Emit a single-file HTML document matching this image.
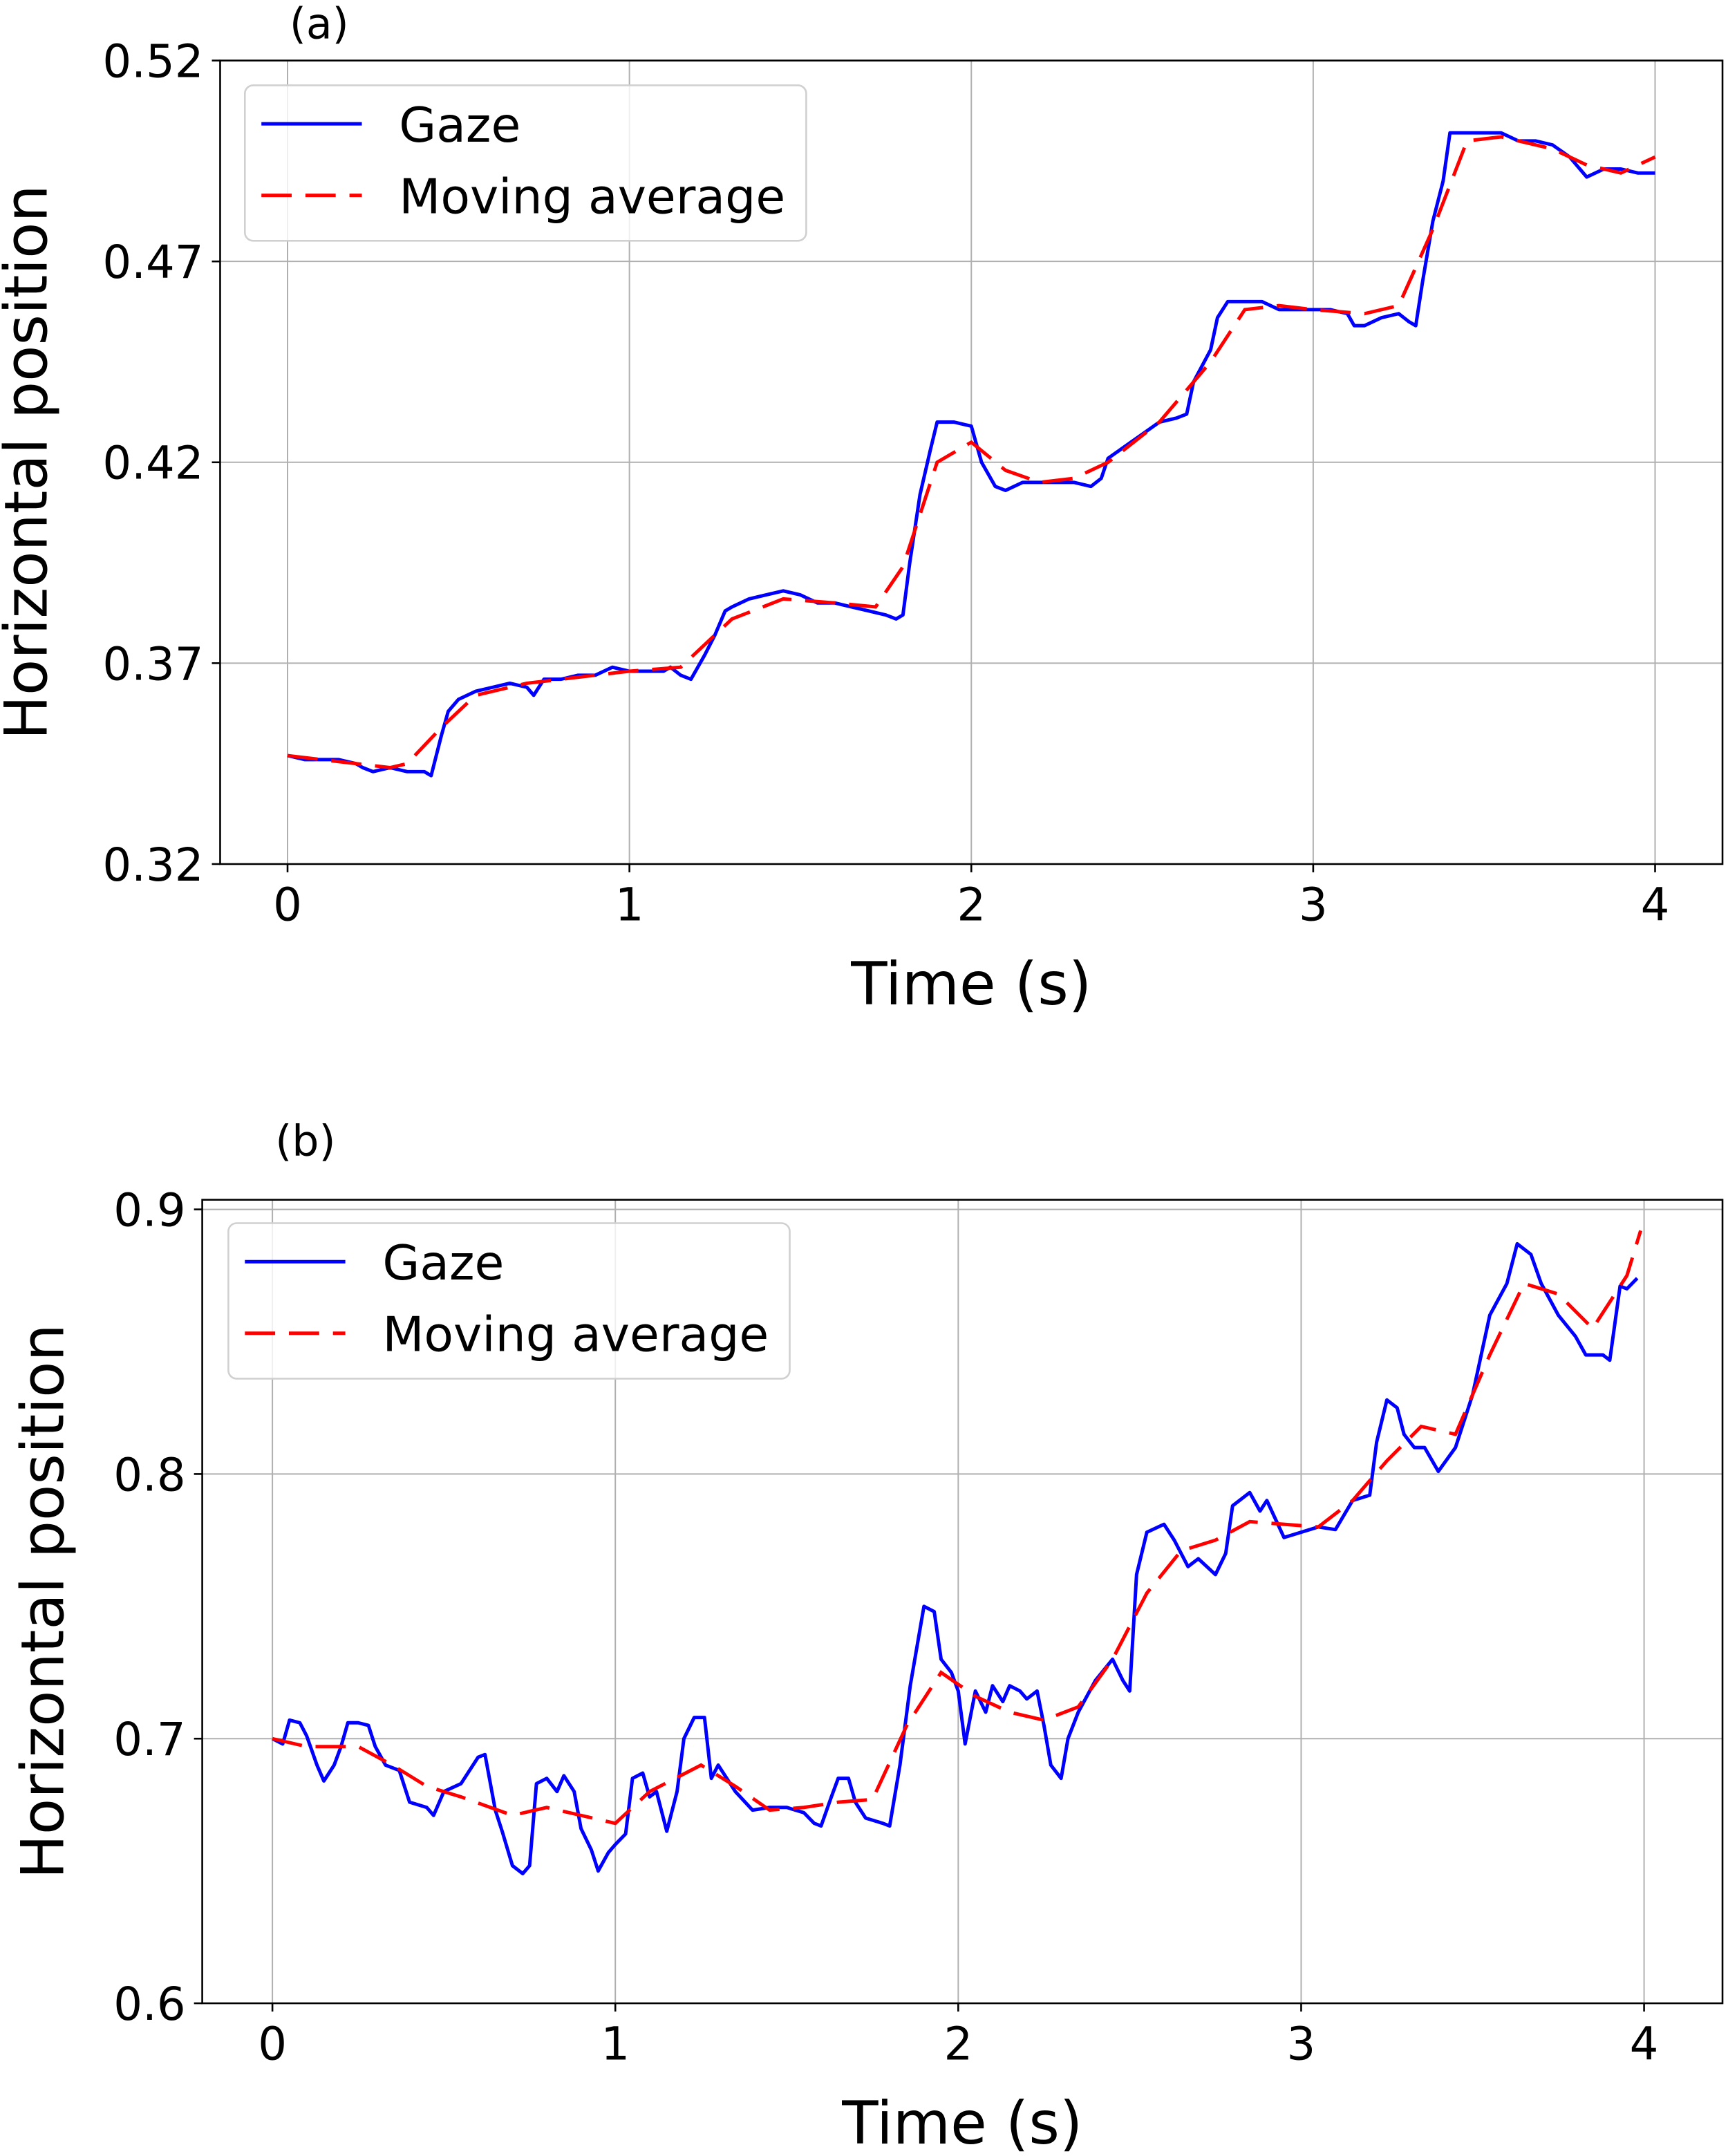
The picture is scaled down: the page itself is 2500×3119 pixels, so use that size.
<!DOCTYPE html>
<html><head><meta charset="utf-8"><style>html,body{margin:0;padding:0;background:#fff}svg{display:block}</style></head>
<body>
<svg id="fig" width="2500" height="3119" viewBox="0 0 1256 1567" preserveAspectRatio="none" xmlns="http://www.w3.org/2000/svg" font-family="DejaVu Sans, Liberation Sans, sans-serif"></svg>
<script>
// Panel (a) data
const aGazeT=[0,0.05,0.1,0.15,0.2,0.22,0.25,0.3,0.35,0.4,0.42,0.45,0.47,0.5,0.55,0.6,0.65,0.7,0.72,0.75,0.8,0.85,0.9,0.95,1.0,1.05,1.1,1.12,1.15,1.18,1.2,1.22,1.25,1.28,1.3,1.35,1.4,1.45,1.5,1.55,1.6,1.65,1.7,1.75,1.78,1.8,1.82,1.85,1.88,1.9,1.95,2.0,2.03,2.07,2.1,2.15,2.2,2.25,2.3,2.35,2.38,2.4,2.45,2.5,2.55,2.6,2.63,2.65,2.7,2.72,2.75,2.8,2.85,2.9,2.95,3.0,3.05,3.1,3.12,3.15,3.2,3.25,3.28,3.3,3.32,3.35,3.38,3.4,3.45,3.5,3.55,3.6,3.65,3.7,3.75,3.8,3.85,3.9,3.95,4.0];
const aGazeV=[0.347,0.346,0.346,0.346,0.345,0.344,0.343,0.344,0.343,0.343,0.342,0.352,0.358,0.361,0.363,0.364,0.365,0.364,0.362,0.366,0.366,0.367,0.367,0.369,0.368,0.368,0.368,0.369,0.367,0.366,0.369,0.372,0.377,0.383,0.384,0.386,0.387,0.388,0.387,0.385,0.385,0.384,0.383,0.382,0.381,0.382,0.395,0.412,0.423,0.430,0.430,0.429,0.420,0.414,0.413,0.415,0.415,0.415,0.415,0.414,0.416,0.421,0.424,0.427,0.430,0.431,0.432,0.440,0.448,0.456,0.460,0.460,0.460,0.458,0.458,0.458,0.458,0.457,0.454,0.454,0.456,0.457,0.455,0.454,0.465,0.480,0.490,0.502,0.502,0.502,0.502,0.500,0.500,0.499,0.496,0.491,0.493,0.493,0.492,0.492];
const aAvgT=[0,0.3,0.35,0.45,0.55,0.7,1.0,1.15,1.3,1.45,1.6,1.72,1.8,1.9,2.0,2.1,2.2,2.3,2.4,2.55,2.7,2.8,2.9,3.0,3.15,3.25,3.35,3.45,3.55,3.7,3.8,3.9,4.0];
const aAvgV=[0.347,0.344,0.345,0.354,0.362,0.365,0.368,0.369,0.381,0.386,0.385,0.384,0.394,0.420,0.425,0.418,0.415,0.416,0.420,0.430,0.445,0.458,0.459,0.458,0.457,0.459,0.478,0.500,0.501,0.498,0.494,0.492,0.496];
const aYTicks=[0.32,0.37,0.42,0.47,0.52];
const xTicks=[0,1,2,3,4];
// Panel (b) data
const bGazeT=[0,0.03,0.05,0.08,0.1,0.13,0.15,0.18,0.2,0.22,0.25,0.28,0.3,0.33,0.37,0.4,0.45,0.47,0.5,0.55,0.6,0.62,0.65,0.67,0.7,0.73,0.75,0.77,0.8,0.83,0.85,0.88,0.9,0.93,0.95,0.98,1.0,1.03,1.05,1.08,1.1,1.12,1.15,1.18,1.2,1.23,1.26,1.28,1.3,1.35,1.4,1.45,1.5,1.55,1.58,1.6,1.63,1.65,1.68,1.7,1.73,1.78,1.8,1.83,1.86,1.9,1.93,1.95,1.98,2.0,2.02,2.05,2.08,2.1,2.13,2.15,2.18,2.2,2.23,2.25,2.27,2.3,2.32,2.35,2.4,2.45,2.48,2.5,2.52,2.55,2.6,2.63,2.67,2.7,2.75,2.78,2.8,2.85,2.88,2.9,2.95,3.0,3.05,3.1,3.15,3.2,3.22,3.25,3.28,3.3,3.33,3.36,3.4,3.45,3.5,3.55,3.6,3.63,3.67,3.7,3.75,3.8,3.83,3.88,3.9,3.93,3.95,3.98];
const bGazeV=[0.700,0.698,0.707,0.706,0.701,0.690,0.684,0.690,0.697,0.706,0.706,0.705,0.697,0.690,0.688,0.676,0.674,0.671,0.680,0.683,0.693,0.694,0.673,0.665,0.652,0.649,0.652,0.683,0.685,0.680,0.686,0.680,0.666,0.658,0.650,0.657,0.660,0.664,0.685,0.687,0.678,0.680,0.665,0.680,0.700,0.708,0.708,0.685,0.690,0.680,0.673,0.674,0.674,0.672,0.668,0.667,0.678,0.685,0.685,0.676,0.670,0.668,0.667,0.690,0.720,0.750,0.748,0.730,0.725,0.718,0.698,0.718,0.710,0.720,0.714,0.720,0.718,0.715,0.718,0.705,0.690,0.685,0.700,0.710,0.722,0.730,0.722,0.718,0.762,0.778,0.781,0.775,0.765,0.768,0.762,0.770,0.788,0.793,0.786,0.790,0.776,0.778,0.780,0.779,0.790,0.792,0.812,0.828,0.825,0.815,0.810,0.810,0.801,0.810,0.830,0.860,0.872,0.887,0.883,0.872,0.860,0.852,0.845,0.845,0.843,0.871,0.870,0.874];
const bAvgT=[0,0.1,0.25,0.35,0.45,0.55,0.7,0.8,0.9,1.0,1.1,1.25,1.35,1.45,1.55,1.65,1.75,1.85,1.95,2.05,2.15,2.25,2.35,2.45,2.55,2.65,2.75,2.85,2.95,3.05,3.15,3.25,3.35,3.45,3.55,3.65,3.75,3.85,3.95,3.99];
const bAvgV=[0.700,0.697,0.697,0.690,0.682,0.678,0.671,0.674,0.671,0.668,0.680,0.690,0.682,0.673,0.674,0.676,0.677,0.705,0.725,0.716,0.710,0.707,0.712,0.730,0.755,0.771,0.775,0.782,0.781,0.780,0.790,0.805,0.818,0.815,0.845,0.872,0.868,0.855,0.875,0.892];
const bYTicks=[0.6,0.7,0.8,0.9];
const bYLabels=["0.6","0.7","0.8","0.9"];

const svg=document.getElementById('fig');
const NS='http://www.w3.org/2000/svg';
function mk(tag,attrs,parent){const e=document.createElementNS(NS,tag);for(const k in attrs)e.setAttribute(k,attrs[k]);(parent||svg).appendChild(e);return e;}

function panel(cfg){
  const g=mk('g',{});
  
  
  const xs=t=>cfg.x0+(t-0)/4*(cfg.x4-cfg.x0);
  const ys=v=>cfg.yb+(v-cfg.ymin)/(cfg.ymax-cfg.ymin)*(cfg.yt-cfg.yb);
  xTicks.forEach(t=>{const l=mk('line',{x1:xs(t),x2:xs(t),y1:cfg.top,y2:cfg.bottom,stroke:'#b0b0b0','stroke-width':1},g);
    });
  cfg.yTicks.forEach(v=>{const l=mk('line',{x1:cfg.left,x2:cfg.right,y1:ys(v),y2:ys(v),stroke:'#b0b0b0','stroke-width':1},g);
    });
  const path=(T,V)=>T.map((t,i)=>(i?'L':'M')+xs(t).toFixed(2)+','+ys(V[i]).toFixed(2)).join('');
  const gz=mk('path',{d:path(cfg.gT,cfg.gV),fill:'none',stroke:'#0000ff','stroke-width':2.5,'stroke-linejoin':'round'},g);
  
  const av=mk('path',{d:path(cfg.aT,cfg.aV),fill:'none',stroke:'#ff0000','stroke-width':2.5,'stroke-dasharray':'22,10'},g);
  
  const fr=mk('rect',{x:cfg.left,y:cfg.top,width:cfg.right-cfg.left,height:cfg.bottom-cfg.top,fill:'none',stroke:'#000','stroke-width':1.3},g);
  
  xTicks.forEach(t=>{mk('line',{x1:xs(t),x2:xs(t),y1:cfg.bottom,y2:cfg.bottom+6,stroke:'#000','stroke-width':1.3},g);
    const tx=mk('text',{x:xs(t),y:cfg.bottom+41,'font-size':33,'text-anchor':'middle',fill:'#000'},g);tx.textContent=String(t);
    });
  cfg.yTicks.forEach((v,i)=>{mk('line',{x1:cfg.left-6,x2:cfg.left,y1:ys(v),y2:ys(v),stroke:'#000','stroke-width':1.3},g);
    const tx=mk('text',{x:cfg.left-12,y:ys(v)+12,'font-size':33,'text-anchor':'end',fill:'#000'},g);tx.textContent=cfg.yLabels[i];
    });
  const xl=mk('text',{x:(cfg.left+cfg.right)/2,y:cfg.bottom+102,'font-size':43,'text-anchor':'middle'},g);xl.textContent='Time (s)';
  
  const yl=mk('text',{x:0,y:0,'font-size':43,'text-anchor':'middle',transform:`translate(${cfg.ylx},${(cfg.top+cfg.bottom)/2}) rotate(-90)`},g);yl.textContent='Horizontal position';
  
  const pl=mk('text',{x:cfg.plx,y:cfg.ply,'font-size':31,'text-anchor':'middle'},g);pl.textContent=cfg.label;
  
  const lg=mk('g',{},g);
  const L=cfg.legX,T=cfg.legY;
  mk('rect',{x:L,y:T,width:408,height:113,rx:6,fill:'#fff','fill-opacity':0.8,stroke:'#d0d0d0','stroke-width':1.3},lg);
  const e1=mk('g',{},lg);
  mk('line',{x1:L+12,x2:L+85,y1:T+28,y2:T+28,stroke:'#0000ff','stroke-width':2.5},e1);
  const t1=mk('text',{x:L+112,y:T+41,'font-size':35},e1);t1.textContent='Gaze';
  const e2=mk('g',{},lg);
  mk('line',{x1:L+12,x2:L+85,y1:T+80,y2:T+80,stroke:'#ff0000','stroke-width':2.5,'stroke-dasharray':'22,10'},e2);
  const t2=mk('text',{x:L+112,y:T+93,'font-size':35},e2);t2.textContent='Moving average';
}
panel({id:'panel-a',left:160,right:1252,top:44,bottom:628,x0:209,x4:1203,yt:44,yb:628,ymin:0.32,ymax:0.52,
  yTicks:aYTicks,yLabels:aYTicks.map(v=>v.toFixed(2)),gT:aGazeT,gV:aGazeV,aT:aAvgT,aV:aAvgV,ylx:34,plx:232,ply:28,label:'(a)',legX:178,legY:62});
panel({id:'panel-b',left:147,right:1252,top:872,bottom:1456,x0:198,x4:1195,yt:879,yb:1456,ymin:0.6,ymax:0.9,
  yTicks:bYTicks,yLabels:bYLabels,gT:bGazeT,gV:bGazeV,aT:bAvgT,aV:bAvgV,ylx:46,plx:222,ply:840,label:'(b)',legX:166,legY:889});
</script>
</body></html>
